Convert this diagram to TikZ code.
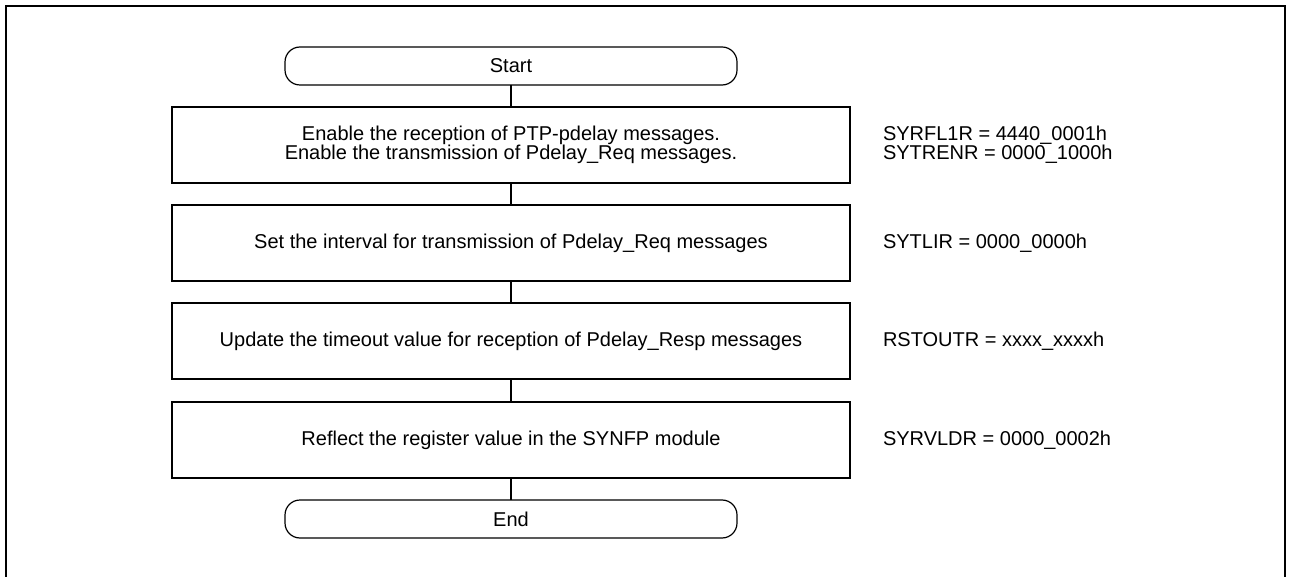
\documentclass[tikz,border=0pt]{standalone}
\usepackage{fontspec}
\setmainfont{Liberation Sans}
\begin{document}
\begin{tikzpicture}[x=1pt,y=-1pt,
  txt/.style={font=\fontsize{20pt}{19pt}\selectfont, inner sep=0pt, outer sep=0pt},
  stepbox/.style={txt, draw, line width=1.2pt, minimum width=678pt, minimum height=76pt, align=center},
  term/.style={txt, draw, line width=1.2pt, minimum width=452pt, minimum height=38pt, rounded corners=15pt},
  reg/.style={txt, anchor=west, align=left},
  link/.style={line width=1.2pt}]
\useasboundingbox (0,0) rectangle (1290,577);
\draw[line width=2pt] (6,577) -- (6,6) -- (1285,6) -- (1285,577);

\node[term] (start) at (511,66) {Start};
\node[stepbox] (s1) at (511,145) {Enable the reception of PTP-pdelay messages.\\Enable the transmission of Pdelay\_Req messages.};
\node[stepbox] (s2) at (511,243) {Set the interval for transmission of Pdelay\_Req messages};
\node[stepbox] (s3) at (511,341) {Update the timeout value for reception of Pdelay\_Resp messages};
\node[stepbox] (s4) at (511,440) {Reflect the register value in the SYNFP module};
\node[term] (end) at (511,519) {End};

\draw[link] (start) -- (s1);
\draw[link] (s1) -- (s2);
\draw[link] (s2) -- (s3);
\draw[link] (s3) -- (s4);
\draw[link] (s4) -- (end);

\node[reg] (r1) at (883,145) {SYRFL1R = 4440\_0001h\\SYTRENR = 0000\_1000h};
\node[reg] (r2) at (883,243) {SYTLIR = 0000\_0000h};
\node[reg] (r3) at (883,341) {RSTOUTR = xxxx\_xxxxh};
\node[reg] (r4) at (883,440) {SYRVLDR = 0000\_0002h};
\end{tikzpicture}
\end{document}
